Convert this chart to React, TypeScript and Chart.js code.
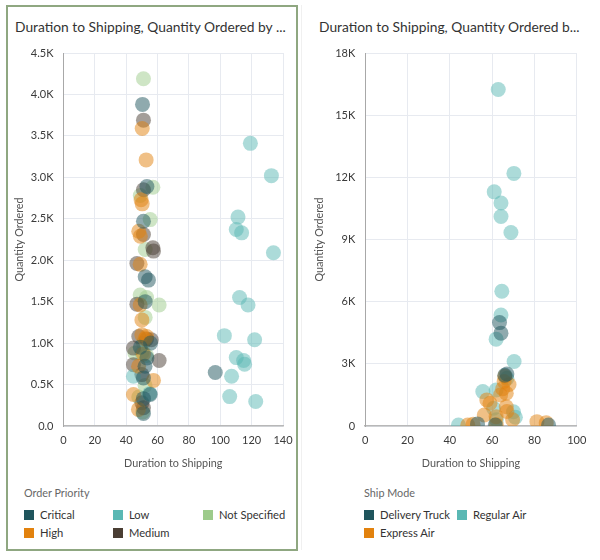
import { useEffect, useRef } from "react";
import { Chart, registerables } from "chart.js";

Chart.register(...registerables);

type Pt = [number, number];

const FONT = "Lato, 'Noto Sans', sans-serif";

// Order Priority series: [days to ship, quantity ordered]
const criticalPts: Pt[] = [
  [50.4, 3880], [53.2, 2890], [51, 2470], [52.1, 1800], [54.2, 1760], [52.1, 1500],
  [55.5, 1000], [53.2, 820], [52, 720], [51, 580], [55.3, 380], [51, 150],
  [96.8, 645], [49, 950], [51, 330],
];
const highPts: Pt[] = [
  [50.2, 3590], [52.7, 3210], [49.5, 2730], [50.2, 2680], [48, 2350], [49, 2290],
  [48.9, 1950], [48.9, 1460], [50, 1280], [50, 1100], [52, 1050], [51, 870],
  [47.9, 720], [57.4, 550], [44.6, 380], [47.8, 200], [53, 1080],
];
const lowPts: Pt[] = [
  [119.2, 3410], [132.6, 3020], [111.3, 2520], [110.2, 2370], [113.6, 2330],
  [133.9, 2090], [112.3, 1550], [117.7, 1460], [102.6, 1090], [121.9, 1040],
  [110.2, 825], [114.9, 790], [115.5, 745], [107.2, 600], [106, 355], [122.6, 295],
  [44.6, 600], [55, 390],
];
const mediumPts: Pt[] = [
  [51, 3690], [51, 2850], [51, 2310], [57, 2150], [57.4, 2110], [46.8, 1960],
  [46.8, 1470], [48, 1080], [53, 1050], [56, 1040], [44.6, 940], [61, 790],
  [44.6, 740], [50, 620], [50, 280], [51, 220],
];
const notSpecifiedPts: Pt[] = [
  [51, 4190], [57, 2880], [49, 2780], [55.3, 2490], [52.1, 2130], [48.9, 1580],
  [61, 1460], [52.1, 1310], [45.5, 880], [50, 880], [53, 850], [52, 490],
  [48, 350], [50.5, 170], [53, 1550], [51, 1000],
];

// Ship Mode series
const deliveryTruckPts: Pt[] = [
  [63.5, 4990], [64.2, 4480], [67, 2510], [61.5, 50], [53.1, 100], [86.7, 50], [66, 2450],
];
const regularAirPts: Pt[] = [
  [62.9, 16240], [70.3, 12190], [61, 11300], [64.2, 10760], [64.2, 10110], [68.9, 9340],
  [64.6, 6500], [64.2, 5360], [61.9, 4190], [70.4, 3110], [55.6, 1660], [61.9, 1740],
  [60.7, 860], [70.1, 690], [71, 420], [62, 300], [44.1, 50], [67, 2300],
];
const expressAirPts: Pt[] = [
  [66, 2400], [65.7, 2150], [66.7, 1580], [64, 1500], [57.5, 1260], [59, 1100],
  [66.7, 930], [67, 700], [56.3, 530], [69.7, 300], [61.9, 450], [62, 60],
  [48.5, 50], [51, 80], [81.2, 210], [85.6, 160], [65, 1800], [68, 2000],
];

const priorityLabels = ["Critical", "High", "Low", "Medium", "Not Specified"];
const priorityColors = ["#1f555d", "#e2820e", "#5ab8b4", "#4a3e34", "#9dcb8b"];
const priorityPoints = [criticalPts, highPts, lowPts, mediumPts, notSpecifiedPts];

const shipLabels = ["Delivery Truck", "Express Air", "Regular Air"];
const shipColors = ["#1f555d", "#e2820e", "#5ab8b4"];
const shipPoints = [deliveryTruckPts, expressAirPts, regularAirPts];

const leftTitle = "Duration to Shipping, Quantity Ordered by ...";
const rightTitle = "Duration to Shipping, Quantity Ordered b...";
const xTitle = "Duration to Shipping";
const yTitle = "Quantity Ordered";

function rgba(hex: string, a: number) {
  const n = parseInt(hex.slice(1), 16);
  return `rgba(${(n >> 16) & 255}, ${(n >> 8) & 255}, ${n & 255}, ${a})`;
}

const fmtK1 = (v: number) => (v === 0 ? "0.0" : `${(v / 1000).toFixed(1)}K`);
const fmtK0 = (v: number) => (v === 0 ? "0" : `${Math.round(v / 1000)}K`);

interface ScatterProps {
  labels: string[];
  colors: string[];
  points: Pt[][];
  xMax: number;
  yMax: number;
  yStep: number;
  yFormat: (v: number) => string;
  left: number;
  top: number;
  width: number;
  height: number;
  yAxisWidth: number;
  padRight: number;
}

function Scatter(p: ScatterProps) {
  const ref = useRef<HTMLCanvasElement>(null);
  useEffect(() => {
    const tickFont = { family: FONT, size: 11 };
    const titleFont = { family: FONT, size: 10.8 };
    const chart = new Chart(ref.current!, {
      type: "scatter",
      data: {
        datasets: p.labels.map((label, i) => ({
          label,
          data: p.points[i].map(([x, y]) => ({ x, y })),
          backgroundColor: rgba(p.colors[i], 0.5),
          borderWidth: 0,
          pointRadius: 7.5,
          pointHoverRadius: 7.5,
        })),
      },
      options: {
        responsive: false,
        animation: false,
        devicePixelRatio: 1,
        layout: { autoPadding: false, padding: { top: 13, right: p.padRight, left: 0, bottom: 0 } },
        plugins: { legend: { display: false }, tooltip: { enabled: false } },
        scales: {
          x: {
            type: "linear",
            min: 0,
            max: p.xMax,
            ticks: { stepSize: 20, padding: 8, color: "#3a3a3a", font: tickFont, maxRotation: 0 },
            grid: { color: "#e7eaf0", drawTicks: false },
            border: { color: "#b8b8b8", width: 1.5 },
            title: {
              display: true,
              text: xTitle,
              color: "#555",
              font: titleFont,
              padding: { top: 4, bottom: 0 },
            },
            afterFit: (s: any) => {
              s.height = 44;
              s.paddingLeft = 0;
              s.paddingRight = 0;
            },
          },
          y: {
            type: "linear",
            min: 0,
            max: p.yMax,
            ticks: {
              stepSize: p.yStep,
              padding: 10,
              color: "#3a3a3a",
              font: tickFont,
              callback: (v: any) => p.yFormat(Number(v)),
            },
            grid: { color: "#e7eaf0", drawTicks: false },
            border: { color: "#a8a8a8", width: 1 },
            title: {
              display: true,
              text: yTitle,
              color: "#555",
              font: titleFont,
              padding: { top: 3, bottom: 0 },
            },
            afterFit: (s: any) => {
              s.width = p.yAxisWidth;
              s.paddingTop = 0;
              s.paddingBottom = 0;
            },
          },
        },
      },
    });
    return () => chart.destroy();
  }, []);
  return (
    <canvas
      ref={ref}
      width={p.width}
      height={p.height}
      style={{ position: "absolute", left: p.left, top: p.top, width: p.width, height: p.height }}
    />
  );
}

function Legend(props: {
  heading: string;
  labels: string[];
  colors: string[];
  left: number;
  colX: number[];
}) {
  return (
    <>
      <div
        style={{
          position: "absolute",
          left: props.left,
          top: 485,
          fontSize: 10.8,
          color: "#666",
          fontFamily: FONT,
          lineHeight: "16px",
        }}
      >
        {props.heading}
      </div>
      {props.labels.map((label, i) => {
        const col = Math.floor(i / 2);
        const row = i % 2;
        return (
          <div
            key={label}
            style={{
              position: "absolute",
              left: props.colX[col],
              top: 507 + row * 18,
              display: "flex",
              alignItems: "center",
              fontSize: 11.2,
              color: "#333",
              fontFamily: FONT,
              lineHeight: "16px",
              whiteSpace: "nowrap",
            }}
          >
            <span
              style={{
                width: 10,
                height: 10,
                background: props.colors[i],
                display: "inline-block",
                marginRight: 6,
              }}
            />
            {label}
          </div>
        );
      })}
    </>
  );
}

const titleStyle: React.CSSProperties = {
  position: "absolute",
  top: 18,
  fontSize: 13.8,
  color: "#333",
  fontFamily: FONT,
  whiteSpace: "nowrap",
  lineHeight: "18px",
};

export default function App() {
  return (
    <div
      style={{
        position: "fixed",
        left: 0,
        top: 0,
        width: 600,
        height: 560,
        background: "#fff",
        overflow: "hidden",
      }}
    >
      <div
        style={{
          position: "absolute",
          left: 6,
          top: 5,
          width: 288,
          height: 542,
          border: "2px solid #8fa781",
        }}
      />
      <div
        style={{
          position: "absolute",
          left: 301,
          top: 5,
          width: 1,
          height: 545,
          background: "#f0f0f0",
        }}
      />
      <div style={{ ...titleStyle, left: 15 }}>{leftTitle}</div>
      <div style={{ ...titleStyle, left: 319 }}>{rightTitle}</div>
      <Scatter
        labels={priorityLabels}
        colors={priorityColors}
        points={priorityPoints}
        xMax={140}
        yMax={4500}
        yStep={500}
        yFormat={fmtK1}
        left={10}
        top={40}
        width={285}
        height={430}
        yAxisWidth={53.5}
        padRight={12}
      />
      <Scatter
        labels={shipLabels}
        colors={shipColors}
        points={shipPoints}
        xMax={100}
        yMax={18000}
        yStep={3000}
        yFormat={fmtK0}
        left={310}
        top={40}
        width={280}
        height={430}
        yAxisWidth={55.2}
        padRight={13.3}
      />
      <Legend
        heading="Order Priority"
        labels={priorityLabels}
        colors={priorityColors}
        left={24}
        colX={[24, 113, 203]}
      />
      <Legend
        heading="Ship Mode"
        labels={shipLabels}
        colors={shipColors}
        left={364}
        colX={[364, 457]}
      />
    </div>
  );
}
